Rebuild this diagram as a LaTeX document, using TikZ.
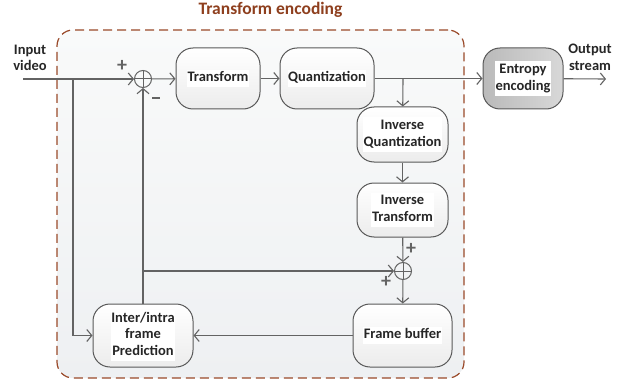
\documentclass[tikz,border=0pt]{standalone}
\usepackage{fontspec}
\setmainfont{Carlito}
\usetikzlibrary{arrows.meta}
\definecolor{linegray}{HTML}{636363}
\definecolor{boxline}{HTML}{595959}
\definecolor{boxbot}{HTML}{ECECEC}
\definecolor{txtcol}{HTML}{262626}
\definecolor{titlecol}{HTML}{8E3F1E}
\definecolor{dashcol}{HTML}{9A4A2A}
\definecolor{regtop}{HTML}{F9FAFA}
\definecolor{regbot}{HTML}{EEF0F2}
\definecolor{entl}{HTML}{BABABA}
\definecolor{entr}{HTML}{D8D8D8}
\newcommand{\wbl}[1]{{\setlength{\fboxsep}{0.6pt}\colorbox{white}{\begin{tabular}{@{}c@{}}#1\end{tabular}}}}
\begin{document}
\begin{tikzpicture}[x=1pt,y=-1pt,
  lbl/.style={font=\bfseries\fontsize{14.5}{16.7}\selectfont, text=txtcol, align=center},
  box/.style={lbl, draw=boxline, line width=1pt, rounded corners=17pt,
    top color=white, bottom color=boxbot, inner sep=0pt},
  sumnode/.style={circle, draw=linegray, line width=1pt, minimum size=17pt, inner sep=0pt,
    path picture={\draw[linegray, line width=1pt]
      (path picture bounding box.north) -- (path picture bounding box.south)
      (path picture bounding box.west) -- (path picture bounding box.east);}},
  conn/.style={draw=linegray, line width=1.1pt,
    -{Straight Barb[length=5pt,width=12pt,line width=1.1pt]}},
  sign/.style={font=\bfseries\fontsize{20}{20}\selectfont, text=linegray, inner sep=0pt},
  region/.style={draw=dashcol, dash pattern=on 9pt off 5pt, line width=1.2pt,
    rounded corners=16pt, top color=regtop, bottom color=regbot, inner sep=0pt}
]
\useasboundingbox (0,0) rectangle (626,385);

\node[region, minimum width=407pt, minimum height=348pt] (enc) at (260.5,204) {};
\node[font=\bfseries\fontsize{17.5}{20}\selectfont, text=titlecol] (title) at (270.5,10) {Transform encoding};

\node[lbl] (intxt) at (30,58) {Input\\video};
\node[lbl] (outtxt) at (590,57) {Output\\stream};

\node[box, minimum width=84pt, minimum height=61pt] (tr) at (218,78.5) {\wbl{Transform}};
\node[box, minimum width=94pt, minimum height=61pt] (qu) at (327,78.5) {\wbl{Quantization}};
\node[box, minimum width=80pt, minimum height=61pt, shading angle=90, left color=entl, right color=entr] (en) at (523,78.5) {\wbl{Entropy\\encoding}};
\node[box, minimum width=91pt, minimum height=55pt] (iq) at (402.5,134.5) {\wbl{Inverse\\Quantization}};
\node[box, minimum width=91pt, minimum height=54pt] (it) at (402.5,210) {\wbl{Inverse\\Transform}};
\node[box, minimum width=99pt, minimum height=63pt] (fb) at (402.5,335.5) {\wbl{Frame buffer}};
\node[box, minimum width=100pt, minimum height=63pt] (pr) at (143,335.5) {\wbl{Inter/intra\\frame\\Prediction}};

\node[sumnode] (s1) at (143,79) {};
\node[sumnode] (s2) at (403,271) {};

\node[sign] (p1) at (122,66) {+};
\node[sign] (m1) at (156,98) {\rule{8pt}{2pt}};
\node[sign] (p2) at (411,249) {+};
\node[sign] (p3) at (386,282) {+};

\coordinate (inp) at (23,79);
\coordinate (outp) at (606,79);
\coordinate (b1) at (403,79);
\coordinate (b2) at (73,79);
\coordinate (b3) at (143,271);

\draw[conn] (inp) -- (s1);
\draw[conn] (s1) -- (tr);
\draw[conn] (tr) -- (qu);
\draw[conn] (qu) -- (en);
\draw[conn] (en) -- (outp);
\draw[conn] (b1) -- (iq);
\draw[conn] (iq) -- (it);
\draw[conn] (it) -- (s2);
\draw[conn] (s2) -- (fb);
\draw[conn] (fb) -- (pr);
\draw[conn] (pr) -- (s1);
\draw[conn] (b3) -- (s2);
\draw[conn] (b2) |- (pr.west);
\end{tikzpicture}
\end{document}
